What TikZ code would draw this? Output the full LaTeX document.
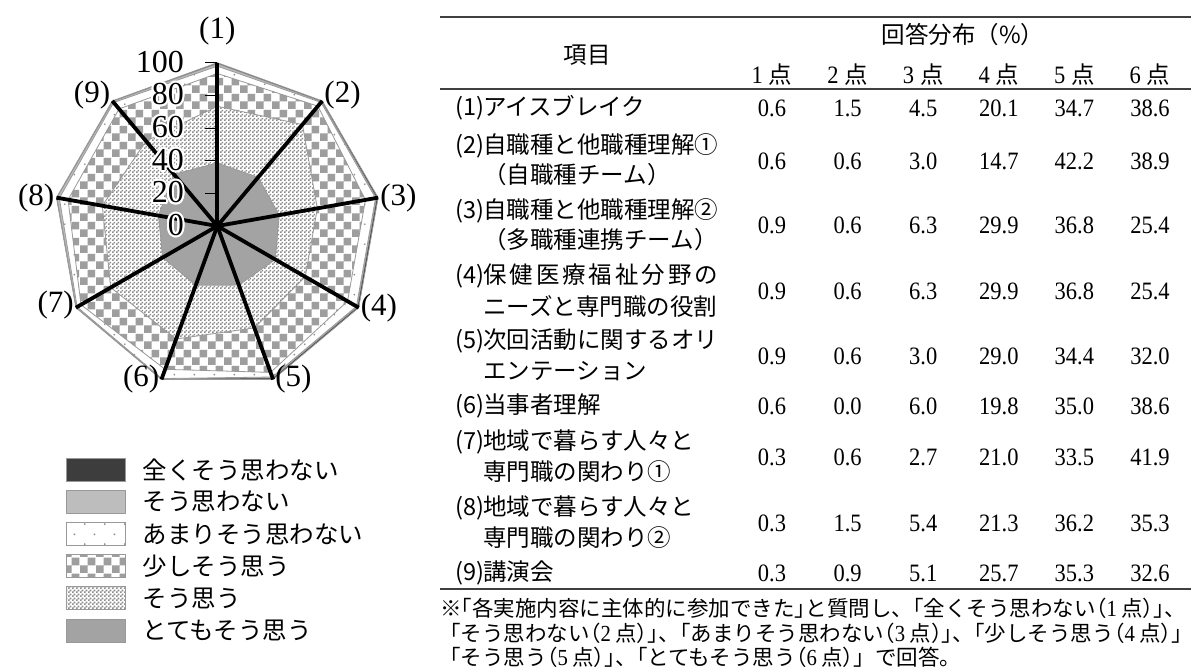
\documentclass[tikz,border=0pt]{standalone}
\usepackage{fontspec}
\newfontfamily\jfont{Noto Sans CJK JP}
\newfontfamily\numfont[FakeStretch=0.9]{Liberation Serif}
\newfontfamily\labfont{Liberation Serif}
\usepackage{contour}
\contourlength{2pt}
\usetikzlibrary{patterns,positioning}

\pgfdeclarepatternformonly{coarsecheck}{\pgfpointorigin}{\pgfqpoint{16pt}{16pt}}{\pgfqpoint{16pt}{16pt}}{%
  \pgfpathrectangle{\pgfpointorigin}{\pgfqpoint{8pt}{8pt}}%
  \pgfpathrectangle{\pgfqpoint{8pt}{8pt}}{\pgfqpoint{8pt}{8pt}}%
  \pgfusepath{fill}}
\pgfdeclarepatternformonly{finecheck}{\pgfpointorigin}{\pgfqpoint{4pt}{4pt}}{\pgfqpoint{4pt}{4pt}}{%
  \pgfpathrectangle{\pgfpointorigin}{\pgfqpoint{2pt}{2pt}}%
  \pgfpathrectangle{\pgfqpoint{2pt}{2pt}}{\pgfqpoint{2pt}{2pt}}%
  \pgfusepath{fill}}
\pgfdeclarepatternformonly{sparsedots}{\pgfpointorigin}{\pgfqpoint{20pt}{20pt}}{\pgfqpoint{20pt}{20pt}}{%
  \pgfpathcircle{\pgfqpoint{5pt}{5pt}}{1pt}%
  \pgfpathcircle{\pgfqpoint{15pt}{15pt}}{1pt}%
  \pgfusepath{fill}}

\tikzset{lay1/.style = {fill=black!76, draw=black!40, line width=0.8pt}}
\tikzset{lay2/.style = {fill=black!26, draw=black!40, line width=0.8pt}}
\tikzset{lay3/.style = {preaction={fill=white}, pattern=sparsedots, pattern color=black!45, draw=black!40, line width=0.8pt}}
\tikzset{lay4/.style = {preaction={fill=white}, pattern=coarsecheck, pattern color=black!38, draw=black!40, line width=0.8pt}}
\tikzset{lay5/.style = {preaction={fill=white}, pattern=finecheck, pattern color=black!45, draw=black!40, line width=0.8pt}}
\tikzset{lay6/.style = {fill=black!36, draw=black!40, line width=0.8pt}}
\tikzset{spoke/.style = {line width=3.8pt, black}}
\tikzset{rule/.style = {line width=1.6pt, black!75}}
\tikzset{jtext/.style = {font=\jfont\fontsize{23.5}{28}\selectfont, inner sep=0pt}}
\tikzset{foot/.style = {font=\jfont\fontsize{21.5}{25}\selectfont, inner sep=0pt, anchor=west}}
\tikzset{num/.style = {font=\numfont\fontsize{25}{28}\selectfont, inner sep=0pt}}
\tikzset{axlabel/.style = {font=\labfont\fontsize{31}{34}\selectfont, inner sep=2pt}}
\tikzset{ticklab/.style = {font=\labfont\fontsize{32}{35}\selectfont, inner sep=0pt, anchor=east}}
\tikzset{legbox/.style = {minimum width=59pt, minimum height=23pt, inner sep=0pt}}

\newcommand\ringpath[9]{(90:#1) -- (50:#2) -- (10:#3) -- (-30:#4) -- (-70:#5) -- (-110:#6) -- (-150:#7) -- (170:#8) -- (130:#9) -- cycle}
\newcommand\itemno[1]{\makebox[28pt][l]{(#1)}}
\newcommand\sq{\kern-.5em}
\newcommand\scorept[1]{\sq（{\numfont\fontsize{23}{25}\selectfont #1}\hspace{.2em}点）}

\begin{document}
\begin{tikzpicture}[x=1pt,y=1pt]
	\useasboundingbox (0,0) rectangle (1191,-669);
	\coordinate (ctr) at (217.3,-226);
	\begin{scope}[shift={(ctr)}, scale=1.633]
		\filldraw [lay1] \ringpath{100}{100}{100}{100}{100}{100}{100}{100}{100};
		\filldraw [lay2] \ringpath{99.4}{99.4}{99.0}{99.0}{99.0}{99.4}{99.7}{99.7}{99.6};
		\filldraw [lay3] \ringpath{97.9}{98.8}{98.4}{98.4}{98.4}{99.4}{99.1}{98.2}{98.7};
		\filldraw [lay4] \ringpath{93.4}{95.8}{92.1}{92.1}{95.4}{93.4}{96.4}{92.8}{93.6};
		\filldraw [lay5] \ringpath{73.3}{81.1}{62.2}{62.2}{66.4}{73.6}{75.4}{71.5}{67.9};
		\filldraw [lay6] \ringpath{38.6}{38.9}{38.5}{41.0}{38.5}{38.6}{38.6}{36.6}{41.3};
		\foreach \a [count=\i] in {90,50,10,-30,-70,-110,-150,170,130}
			\coordinate (v\i) at (\a:100);
	\end{scope}
	\foreach \i in {1,...,9}
		\draw [spoke] (ctr) -- (v\i);
	\foreach \t in {20,40,...,100}
		\draw [line width=1pt] (205.3,{-226+1.633*\t}) -- (217.3,{-226+1.633*\t});
	\foreach \t in {0,20,...,100}
		\node [ticklab] (tk\t) at (184,{-226+1.633*\t}) {\contour{white}{\t}};
	\node [axlabel, above=15pt] (lab1) at (v1) {(1)};
	\node [axlabel, right, yshift=6pt] (lab2) at (v2) {(2)};
	\node [axlabel, right] (lab3) at (v3) {(3)};
	\node [axlabel, right] (lab4) at (v4) {(4)};
	\node [axlabel, right] (lab5) at (v5) {(5)};
	\node [axlabel, left] (lab6) at (v6) {(6)};
	\node [axlabel, left, yshift=3pt] (lab7) at (v7) {(7)};
	\node [axlabel, left] (lab8) at (v8) {(8)};
	\node [axlabel, left, yshift=6pt] (lab9) at (v9) {(9)};
	% legend
	\foreach \sty/\txt [count=\k] in {lay1/全くそう思わない, lay2/そう思わない, lay3/あまりそう思わない, lay4/少しそう思う, lay5/そう思う, lay6/とてもそう思う} {
		\node [legbox, \sty] (key\k) at (95.5,{-469.5-32.2*(\k-1)}) {};
		\node [jtext, font=\jfont\fontsize{24.5}{28}\selectfont, right=17pt of key\k] (lt\k) {\txt};
	}
	% table
	\draw [rule] (440,-17) -- (1191,-17);
	\draw [rule] (440,-89) -- (1191,-89);
	\draw [rule] (440,-589) -- (1191,-589);
	\node [jtext] (hitem) at (587,-55) {項目};
	\node [jtext] (hdist) at (963,-35) {回答分布（\%）};
	\foreach \c in {1,...,6}
		\node [jtext] (hpt\c) at ({696.4+75.6*\c},-75) {{\numfont\fontsize{25}{28}\selectfont\c}\hspace{.25em}点};
	\node [jtext, anchor=west] (it1) at (455,-108) {\itemno{1}アイスブレイク};
	\node [jtext, anchor=west] (it2a) at (455,-146) {\itemno{2}自職種と他職種理解①};
	\node [jtext, anchor=west] (it2b) at (483,-175) {（自職種チーム）};
	\node [jtext, anchor=west] (it3a) at (455,-211) {\itemno{3}自職種と他職種理解②};
	\node [jtext, anchor=west] (it3b) at (483,-240) {（多職種連携チーム）};
	\node [jtext, anchor=west] (it4a) at (455,-276) {\itemno{4}\makebox[235pt][l]{保\hfill 健\hfill 医\hfill 療\hfill 福\hfill 祉\hfill 分\hfill 野\hfill の}};
	\node [jtext, anchor=west] (it4b) at (483,-306) {ニーズと専門職の役割};
	\node [jtext, anchor=west] (it5a) at (455,-341) {\itemno{5}次回活動に関するオリ};
	\node [jtext, anchor=west] (it5b) at (483,-371) {エンテーション};
	\node [jtext, anchor=west] (it6) at (455,-406) {\itemno{6}当事者理解};
	\node [jtext, anchor=west] (it7a) at (455,-442) {\itemno{7}地域で暮らす人々と};
	\node [jtext, anchor=west] (it7b) at (483,-472) {専門職の関わり①};
	\node [jtext, anchor=west] (it8a) at (455,-508) {\itemno{8}地域で暮らす人々と};
	\node [jtext, anchor=west] (it8b) at (483,-538) {専門職の関わり②};
	\node [jtext, anchor=west] (it9) at (455,-573) {\itemno{9}講演会};
	\foreach \y/\vals [count=\r] in {108/{0.6,1.5,4.5,20.1,34.7,38.6}, 161/{0.6,0.6,3.0,14.7,42.2,38.9},
			225/{0.9,0.6,6.3,29.9,36.8,25.4}, 291/{0.9,0.6,6.3,29.9,36.8,25.4}, 356/{0.9,0.6,3.0,29.0,34.4,32.0},
			406/{0.6,0.0,6.0,19.8,35.0,38.6}, 457/{0.3,0.6,2.7,21.0,33.5,41.9}, 523/{0.3,1.5,5.4,21.3,36.2,35.3},
			573/{0.3,0.9,5.1,25.7,35.3,32.6}}
		\foreach \v [count=\c] in \vals
			\node [num] (d\r-\c) at ({696.4+75.6*\c},-\y) {\v};
	% note
	\node [foot] (note1) at (440,-608) {※\sq「各実施内容に主体的に参加できた」\sq と質問し、\sq「全くそう思わない\scorept{1}\sq」\sq、};
	\node [foot] (note2) at (450,-633) {\sq「そう思わない\scorept{2}\sq」\sq、\sq「あまりそう思わない\scorept{3}\sq」\sq、\sq「少しそう思う\scorept{4}\sq」};
	\node [foot] (note3) at (450,-657) {\sq「そう思う\scorept{5}\sq」\sq、\sq「とてもそう思う\scorept{6}\sq」で回答。};
\end{tikzpicture}
\end{document}
